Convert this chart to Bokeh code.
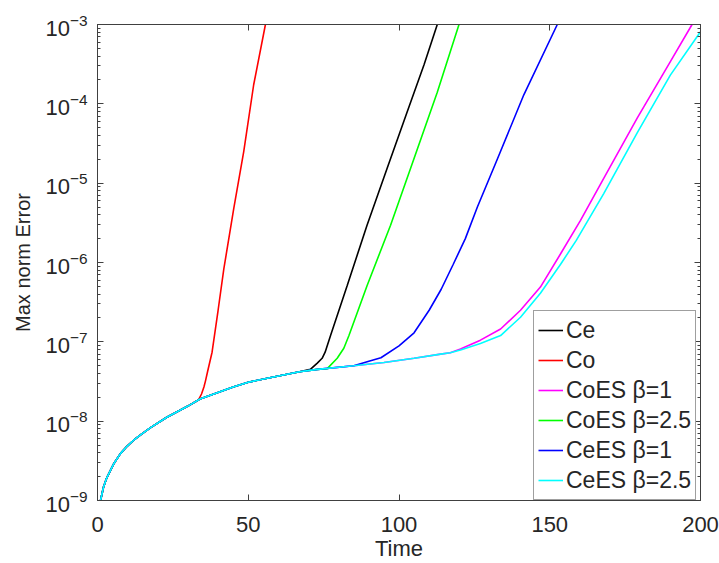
import numpy as np
from bokeh.plotting import figure
from bokeh.models import (LogAxis, LinearAxis, Legend, LegendItem, Range1d,
                          FixedTicker, CustomJSTickFormatter)
from bokeh.embed import file_html
from bokeh.resources import INLINE

# ---- data ----
base_t = [1, 2, 3, 4.3, 5.5, 7.6, 9.5, 12, 14.5, 17.6, 23, 30, 34, 45, 50, 60,
          67, 73, 85, 95, 105, 113.8, 117]
base_err = [1.0e-9, 1.48e-9, 1.9e-9, 2.4e-9, 2.95e-9, 3.9e-9, 4.7e-9, 5.75e-9,
            6.8e-9, 8.3e-9, 1.12e-8, 1.55e-8, 1.9e-8, 2.7e-8, 3.1e-8, 3.7e-8,
            4.2e-8, 4.5e-8, 5.0e-8, 5.5e-8, 6.2e-8, 7.0e-8, 7.3e-8]

labels = ["Ce", "Co", "CoES \u03b2=1", "CoES \u03b2=2.5", "CeES \u03b2=1", "CeES \u03b2=2.5"]
colors = ["#000000", "#ff0000", "#ff00ff", "#00ff00", "#0000ff", "#00ffff"]
# last base time each series shares with the common curve
depart = [67, 30, 117, 73, 85, 117]

ce_t = [70.6, 72.9, 74.5, 75.5, 77.3, 82.8, 89.4, 96.1, 102.7, 108.3, 112.7]
ce_err = [4.5e-8, 5.4e-8, 6.2e-8, 7.4e-8, 1.2e-7, 5.1e-7, 2.95e-6, 1.55e-5,
          7.9e-5, 3.1e-4, 1.0e-3]

co_t = [33.5, 34.5, 35.3, 35.8, 36.5, 38, 40, 41.9, 45.2, 48.5, 51.8, 55.7]
co_err = [1.85e-8, 2.2e-8, 2.7e-8, 3.2e-8, 4.2e-8, 7.4e-8, 2.5e-7, 8.3e-7,
          4.8e-6, 2.5e-5, 1.74e-4, 1.0e-3]

coes1_t = [120.4, 127, 133.7, 140.3, 146.9, 153.6, 160.2, 167.9, 179, 190, 197.2]
coes1_err = [8.1e-8, 1.05e-7, 1.45e-7, 2.5e-7, 4.9e-7, 1.29e-6, 3.4e-6,
             1.15e-5, 6.6e-5, 3.4e-4, 1.0e-3]

coes25_t = [76.2, 79.5, 81.7, 83.4, 89.4, 97.2, 104.9, 112.7, 119.9]
coes25_err = [4.6e-8, 6.2e-8, 8.3e-8, 1.2e-7, 5.1e-7, 2.95e-6, 2.0e-5, 1.4e-4, 1.0e-3]

cees1_t = [90, 94, 100, 105, 110, 114, 118, 122, 126, 132.6, 141.4, 152.5]
cees1_err = [5.7e-8, 6.3e-8, 8.9e-8, 1.3e-7, 2.5e-7, 4.6e-7, 9.5e-7, 2.0e-6,
             5.0e-6, 2.0e-5, 1.3e-4, 1.0e-3]

cees25_t = [120.4, 127, 133.7, 140.3, 146.9, 153.6, 158.8, 167.9, 179, 190, 200]
cees25_err = [7.9e-8, 9.5e-8, 1.2e-7, 2.04e-7, 4.1e-7, 9.5e-7, 1.9e-6, 7.4e-6,
              4.3e-5, 2.3e-4, 8.1e-4]

tails = [(ce_t, ce_err), (co_t, co_err), (coes1_t, coes1_err),
         (coes25_t, coes25_err), (cees1_t, cees1_err), (cees25_t, cees25_err)]

x_ticks = [0, 50, 100, 150, 200]
y_ticks = [1e-9, 1e-8, 1e-7, 1e-6, 1e-5, 1e-4, 1e-3]

FONT = "Liberation Sans"
AX = "#404040"
TXT = "#262626"

p = figure(frame_width=603, frame_height=476, y_axis_type="log",
           x_range=Range1d(0, 200), y_range=Range1d(1e-9, 1e-3),
           output_backend="svg", toolbar_location=None,
           min_border_left=97, min_border_right=19, min_border_top=24,
           min_border_bottom=63)
p.xgrid.visible = False
p.ygrid.visible = False
p.outline_line_color = AX
p.background_fill_color = "white"
p.border_fill_color = "white"

y_minor = [m * d for d in y_ticks[:-1] for m in range(2, 10)]
blank = CustomJSTickFormatter(code="return ''")

def style(ax, labels_on=True):
    ax.major_tick_in = 6
    ax.major_tick_out = 0
    ax.minor_tick_in = 3
    ax.minor_tick_out = 0
    ax.axis_line_color = AX
    ax.major_tick_line_color = AX
    ax.minor_tick_line_color = AX
    ax.major_label_text_font = FONT
    ax.major_label_text_color = TXT
    ax.major_label_text_font_size = "22px"
    ax.axis_label_text_font = FONT
    ax.axis_label_text_font_style = "normal"
    ax.axis_label_text_color = TXT
    ax.axis_label_text_font_size = "22px"
    if not labels_on:
        ax.formatter = blank
        ax.major_label_standoff = 0

xa = p.xaxis[0]
xa.ticker = FixedTicker(ticks=x_ticks)
style(xa)
xa.minor_tick_in = 0
xa.axis_label = "Time"
xa.major_label_standoff = 16
xa.axis_label_standoff = 1

ya = p.yaxis[0]
ya.ticker = FixedTicker(ticks=y_ticks, minor_ticks=y_minor)
style(ya)
ya.axis_label = "Max norm Error"
ya.axis_label_text_font_size = "20px"
ya.major_label_standoff = 10
ya.axis_label_standoff = 8

top = LinearAxis(ticker=FixedTicker(ticks=x_ticks))
style(top, False)
top.minor_tick_in = 0
p.add_layout(top, "above")

right = LogAxis(ticker=FixedTicker(ticks=y_ticks, minor_ticks=y_minor))
style(right, False)
p.add_layout(right, "right")

items = []
for lab, col, dep, (tt, ee) in zip(labels, colors, depart, tails):
    t = [b for b in base_t if b <= dep] + list(tt)
    e = [v for b, v in zip(base_t, base_err) if b <= dep] + list(ee)
    r = p.line(t, e, line_color=col, line_width=1.6)
    items.append(LegendItem(label=lab, renderers=[r]))

legend = Legend(items=items, location=(436, 0),
                label_text_font=FONT, label_text_font_size="23px",
                label_text_color=TXT, glyph_width=25, glyph_height=30,
                label_height=30, spacing=0, padding=4, margin=0,
                label_standoff=3, border_line_color=AX,
                background_fill_color="white", background_fill_alpha=1.0)
p.add_layout(legend)

open("out.html", "w").write(file_html(p, INLINE))
